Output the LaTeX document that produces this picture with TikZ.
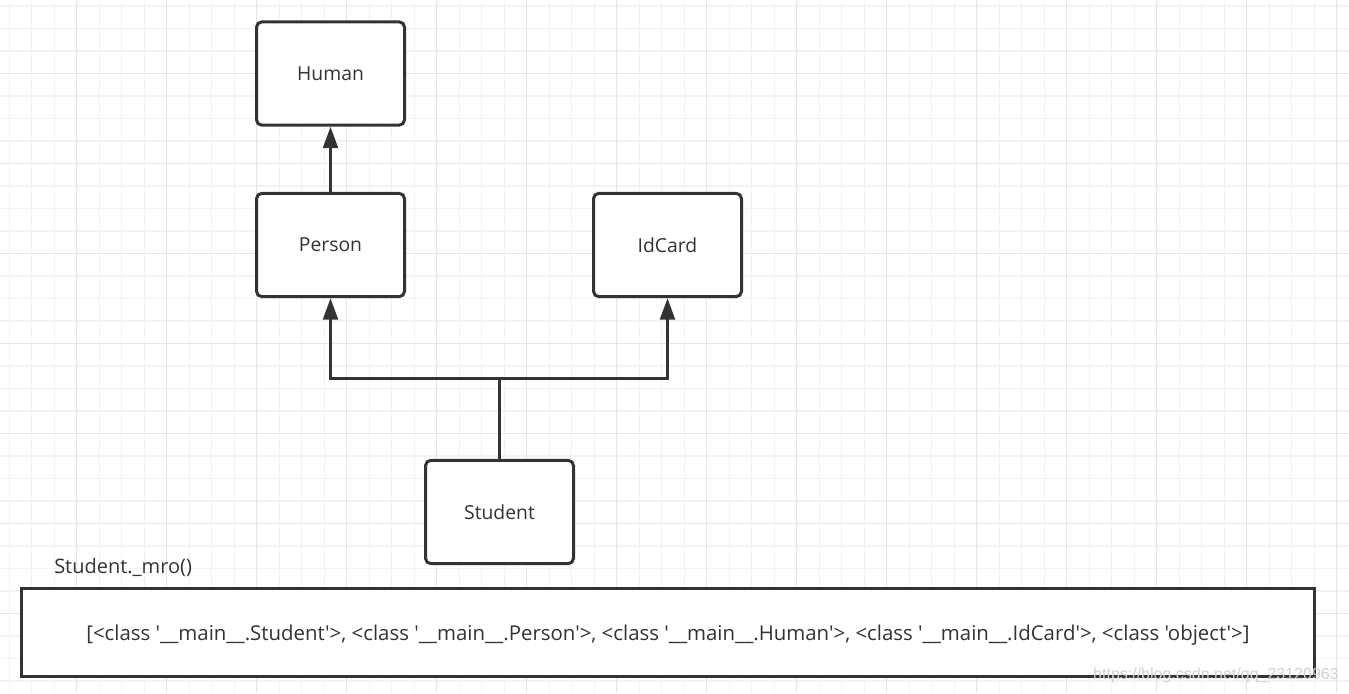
\documentclass[tikz,border=0pt]{standalone}
\usepackage{fontspec}
\setmainfont{Open Sans}[Ligatures=TeXOff]
\newfontfamily\wmfont{Liberation Sans}
\usetikzlibrary{arrows.meta}
\definecolor{ink}{HTML}{333333}
\definecolor{gridminor}{HTML}{F2F2F2}
\definecolor{gridmajor}{HTML}{E5E5E5}
\tikzset{
  classbox/.style={draw=ink, line width=2.25pt, rounded corners=4pt, fill=white,
    minimum width=111pt, minimum height=77.5pt, inner sep=0pt,
    font=\fontsize{14.5}{16}\selectfont, text=ink},
  resultbox/.style={draw=ink, line width=2.25pt, fill=white,
    minimum width=970pt, minimum height=66pt, inner sep=0pt, text depth=0pt,
    font=\fontsize{15.3}{17}\selectfont, text=ink},
  plainlabel/.style={inner sep=0pt, font=\fontsize{15}{17}\selectfont, text=ink},
  conn/.style={draw=ink, line width=2.25pt},
  inherit/.style={conn, -{Triangle[length=16pt,width=11pt]}},
  wmark/.style={inner sep=0pt, font=\wmfont\fontsize{12}{14}\selectfont, text=black!18}
}
\begin{document}
\begin{tikzpicture}[x=0.75pt,y=-0.75pt]
\useasboundingbox (0,0) rectangle (1349,693);
\fill[white] (0,0) rectangle (1349,693);
% grid
\foreach \i in {0,...,59} {
  \draw[gridminor, line width=0.9pt] ({9.2+22.5*\i},0) -- ({9.2+22.5*\i},693);
}
\foreach \i in {0,...,30} {
  \draw[gridminor, line width=0.9pt] (0,{6+22.5*\i}) -- (1349,{6+22.5*\i});
}
\foreach \i in {0,...,14} {
  \draw[gridmajor, line width=0.9pt] ({76.7+90*\i},0) -- ({76.7+90*\i},693);
}
\foreach \i in {0,...,7} {
  \draw[gridmajor, line width=0.9pt] (0,{73.3+90*\i}) -- (1349,{73.3+90*\i});
}
% classes
\node[classbox] (human)   at (330.5,73.5) {Human};
\node[classbox] (person)  at (330.5,245)  {Person};
\node[classbox] (idcard)  at (667.5,245)  {IdCard};
\node[classbox] (student) at (499.5,512)  {Student};
\coordinate (junction) at (499.5,378.3);
% connectors
\draw[inherit] (person) -- (human);
\draw[conn] (student.north) -- (junction);
\draw[inherit] (junction) -| (person.south);
\draw[inherit] (junction) -| (idcard.south);
% result
\node[plainlabel, anchor=west] (mrolabel) at (54,567.5) {Student.\_mro()};
\node[resultbox] (result) at (668,632.5) {[<class '\_\_main\_\_.Student'>, <class '\_\_main\_\_.Person'>, <class '\_\_main\_\_.Human'>, <class '\_\_main\_\_.IdCard'>, <class 'object'>]};
\node[wmark, anchor=east] (wm) at (1339,675) {https://blog.csdn.net/qq\_23120963};
\end{tikzpicture}
\end{document}
